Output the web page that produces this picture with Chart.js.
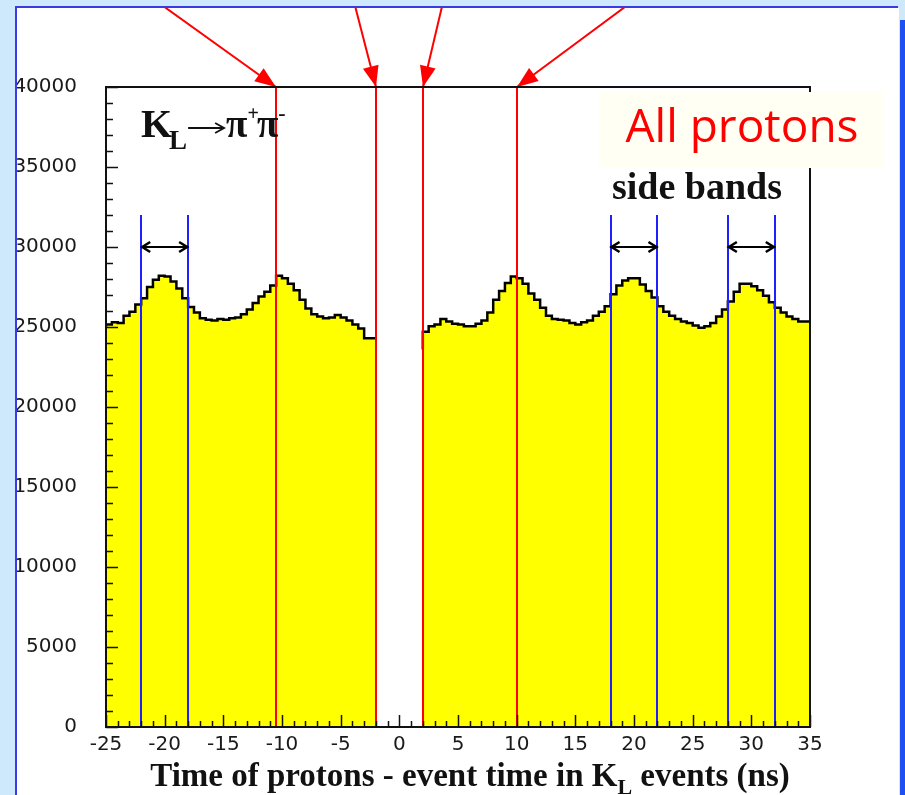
<!DOCTYPE html>
<html>
<head>
<meta charset="utf-8">
<title>Proton timing in KL events</title>
<script src="https://cdn.jsdelivr.net/npm/chart.js@4.4.1/dist/chart.umd.min.js"></script>
<style>
  html, body { margin: 0; padding: 0; background: #cde9fb; }
  #wrap { width: 905px; height: 795px; }
</style>
</head>
<body>
<div id="wrap"><canvas id="plot" width="905" height="795"></canvas></div>
<script>
// histogram, 0.5 ns bins; the window -2..2 ns is cut out
const binWidth = 0.5
const leftStart = -25
const leftCounts = [
  25000, 25150, 25300, 25250, 25700, 25950, 26400, 26800, 27500, 27950,
  28200, 28150, 27850, 27400, 26800, 26250, 25900, 25550, 25450, 25400,
  25500, 25450, 25550, 25600, 25800, 26100, 26500, 26900, 27200, 27600,
  28200, 28050, 27700, 27300, 26700, 26150, 25800, 25650, 25550, 25600,
  25750, 25600, 25400, 25150, 24900, 24300
]
const rightStart = 2
const rightCounts = [
  23600, 24700, 25050, 25150, 25500, 25350, 25200, 25150, 25050, 25050,
  25200, 25400, 25900, 26700, 27250, 27750, 28150, 28050, 27700, 27100,
  26700, 26200, 25700, 25500, 25450, 25400, 25250, 25150, 25300, 25400,
  25700, 25950, 26300, 27050, 27600, 27900, 28050, 28050, 27650, 27250,
  26850, 26300, 25950, 25700, 25500, 25350, 25250, 25100, 24950, 25050,
  25250, 25650, 26100, 26600, 27200, 27700, 27700, 27550, 27300, 26950,
  26550, 26200, 25900, 25650, 25500, 25350
]

// time cuts (red) and side band windows (blue)
const cutTimes = [-10.5, -2, 2, 10]
const sideBands = [[-22, -18], [18, 22], [28, 32]]
const sideBandTop = 32000
const sideBandArrowLevel = 30000

// axes
const xMin = -25, xMax = 35, xStep = 5, xMinorStep = 1
const yMin = 0, yMax = 40000, yStep = 5000, yMinorStep = 1000

const xTitle = ['Time of protons - event time in K', 'L', ' events (ns)']
const boxLabel = 'All protons'
const bandLabel = 'side bands'

function toPoints(start, counts) {
  const pts = counts.map((c, i) => ({x: start + i * binWidth, y: c}))
  pts.push({x: start + counts.length * binWidth, y: counts[counts.length - 1]})
  return pts
}

// pixel offsets of the arrow tails above the frame
const arrowTailDx = [-124, -23, 21, 120]

const serif = '"Liberation Serif", "Times New Roman", serif'
const tickFont = {family: '"DejaVu Sans", sans-serif', size: 20}

function arrowHead(ctx, x1, y1, x2, y2, len, half, filled) {
  const a = Math.atan2(y2 - y1, x2 - x1)
  const bx = x2 - len * Math.cos(a), by = y2 - len * Math.sin(a)
  const px = -Math.sin(a) * half, py = Math.cos(a) * half
  ctx.beginPath()
  if (filled) {
    ctx.moveTo(x2, y2)
    ctx.lineTo(bx + px, by + py)
    ctx.lineTo(bx - px, by - py)
    ctx.closePath()
    ctx.fill()
  } else {
    ctx.moveTo(bx + px, by + py)
    ctx.lineTo(x2, y2)
    ctx.lineTo(bx - px, by - py)
    ctx.stroke()
  }
}

const decorations = {
  id: 'decorations',
  beforeDraw(chart) {
    const ctx = chart.ctx
    ctx.save()
    ctx.fillStyle = '#cde9fb'
    ctx.fillRect(0, 0, chart.width, chart.height)
    ctx.fillStyle = '#ffffff'
    ctx.fillRect(17, 8, 882, chart.height - 8)
    ctx.restore()
  },
  afterDatasetsDraw(chart) {
    const ctx = chart.ctx
    const xs = chart.scales.x, ys = chart.scales.y
    const area = chart.chartArea
    ctx.save()

    // side band edges
    ctx.strokeStyle = '#1f1fff'
    ctx.lineWidth = 2
    sideBands.forEach(band => {
      band.forEach(t => {
        const px = Math.round(xs.getPixelForValue(t))
        ctx.beginPath()
        ctx.moveTo(px, ys.getPixelForValue(0))
        ctx.lineTo(px, ys.getPixelForValue(sideBandTop))
        ctx.stroke()
      })
    })

    // double arrows between the side band edges
    ctx.strokeStyle = '#000'
    ctx.lineWidth = 2
    sideBands.forEach(([a, b]) => {
      const x1 = xs.getPixelForValue(a), x2 = xs.getPixelForValue(b)
      const y = ys.getPixelForValue(sideBandArrowLevel)
      ctx.beginPath()
      ctx.moveTo(x1, y)
      ctx.lineTo(x2, y)
      ctx.stroke()
      ctx.lineWidth = 2.5
      arrowHead(ctx, x2, y, x1 + 1, y, 8, 5, false)
      arrowHead(ctx, x1, y, x2 - 1, y, 8, 5, false)
      ctx.lineWidth = 2
    })

    // time cuts
    ctx.strokeStyle = '#ff0000'
    ctx.fillStyle = '#ff0000'
    ctx.lineWidth = 2
    cutTimes.forEach((t, i) => {
      const px = Math.round(xs.getPixelForValue(t))
      const top = ys.getPixelForValue(yMax)
      ctx.beginPath()
      ctx.moveTo(px, ys.getPixelForValue(0))
      ctx.lineTo(px, top)
      ctx.stroke()
      const tx = px + arrowTailDx[i], ty = -2
      ctx.beginPath()
      ctx.moveTo(tx, ty)
      ctx.lineTo(px, top)
      ctx.stroke()
      arrowHead(ctx, tx, ty, px, top, 21, 8, true)
    })

    // frame
    ctx.strokeStyle = '#111'
    ctx.lineWidth = 2
    ctx.strokeRect(area.left, area.top, area.right - area.left, area.bottom - area.top)

    // inward tick marks
    ctx.lineWidth = 1.5
    ctx.beginPath()
    for (let t = xMin; t <= xMax; t += xMinorStep) {
      const px = Math.round(xs.getPixelForValue(t)) + 0.5
      const len = (t % xStep === 0) ? 12 : 6
      ctx.moveTo(px, area.bottom)
      ctx.lineTo(px, area.bottom - len)
    }
    for (let v = yMin; v <= yMax; v += yMinorStep) {
      const py = Math.round(ys.getPixelForValue(v)) + 0.5
      const len = (v % yStep === 0) ? 12 : 7
      ctx.moveTo(area.left, py)
      ctx.lineTo(area.left + len, py)
    }
    ctx.stroke()
    ctx.restore()
  },
  afterDraw(chart) {
    const ctx = chart.ctx
    ctx.save()

    // K_L -> pi+ pi-
    ctx.fillStyle = '#111'
    ctx.strokeStyle = '#111'
    ctx.textBaseline = 'alphabetic'
    let x = 141
    const base = 137
    ctx.font = 'bold 40px ' + serif
    ctx.fillText('K', x, base)
    x += ctx.measureText('K').width - 3
    ctx.font = 'bold 27px ' + serif
    ctx.fillText('L', x, base + 12)
    x += ctx.measureText('L').width
    // reaction arrow
    ctx.lineWidth = 1.8
    ctx.beginPath()
    ctx.moveTo(x + 1, base - 9)
    ctx.lineTo(x + 36, base - 9)
    ctx.stroke()
    arrowHead(ctx, x, base - 9, x + 37, base - 9, 9, 5, false)
    x += 39
    ctx.font = 'bold 39px ' + serif
    ctx.fillText('\u03c0', x, base)
    x += ctx.measureText('\u03c0').width
    ctx.font = 'bold 20px ' + serif
    ctx.fillText('+', x, base - 17)
    x += ctx.measureText('+').width - 2
    ctx.font = 'bold 39px ' + serif
    ctx.fillText('\u03c0', x, base)
    x += ctx.measureText('\u03c0').width
    ctx.font = 'bold 22px ' + serif
    ctx.fillText('-', x, base - 17)

    // side bands caption
    ctx.font = 'bold 38px ' + serif
    ctx.textAlign = 'center'
    ctx.fillText(bandLabel, 697, 199)

    // boxed label
    ctx.fillStyle = '#fffff3'
    ctx.fillRect(599, 92, 285, 76)
    ctx.fillStyle = '#ff0000'
    ctx.font = '46px "Open Sans", sans-serif'
    ctx.textBaseline = 'middle'
    ctx.fillText(boxLabel, 742, 129)

    // axis title with subscript
    ctx.textAlign = 'left'
    ctx.textBaseline = 'alphabetic'
    ctx.fillStyle = '#111'
    const fonts = ['bold 33px ' + serif, 'bold 22px ' + serif, 'bold 33px ' + serif]
    const dys = [0, 8, 0]
    let total = 0
    xTitle.forEach((s, i) => { ctx.font = fonts[i]; total += ctx.measureText(s).width })
    x = 470 - total / 2
    xTitle.forEach((s, i) => {
      ctx.font = fonts[i]
      ctx.fillText(s, x, 786 + dys[i])
      x += ctx.measureText(s).width
    })

    // page edges
    ctx.fillStyle = '#cde9fb'
    ctx.fillRect(0, 0, 15, chart.height)
    ctx.fillRect(0, 0, chart.width, 6)
    ctx.strokeStyle = '#3a3ae6'
    ctx.lineWidth = 2
    ctx.beginPath()
    ctx.moveTo(16, chart.height)
    ctx.lineTo(16, 7)
    ctx.lineTo(898, 7)
    ctx.stroke()
    ctx.fillStyle = '#cde9fb'
    ctx.fillRect(899, 0, 6, chart.height)
    ctx.fillStyle = '#1e4ff0'
    ctx.fillRect(900, 20, 5, chart.height - 20)
    ctx.restore()
  }
}

const histStyle = {
  stepped: 'after',
  fill: 'origin',
  backgroundColor: '#ffff00',
  borderColor: '#000000',
  borderWidth: 2.5,
  pointRadius: 0
}

new Chart(document.getElementById('plot'), {
  type: 'line',
  data: {
    datasets: [
      Object.assign({data: toPoints(leftStart, leftCounts)}, histStyle),
      Object.assign({data: toPoints(rightStart, rightCounts)}, histStyle)
    ]
  },
  options: {
    responsive: false,
    animation: false,
    layout: {padding: {top: 87, right: 95, bottom: 0, left: 0}},
    plugins: {legend: {display: false}, tooltip: {enabled: false}},
    scales: {
      x: {
        type: 'linear',
        min: xMin,
        max: xMax,
        afterFit(s) { s.height = 68 },
        grid: {display: false, drawTicks: false},
        border: {display: false},
        ticks: {
          stepSize: xStep,
          padding: 6,
          color: '#1a1a1a',
          maxRotation: 0,
          font: tickFont,
          callback: v => String(v)
        }
      },
      y: {
        min: yMin,
        max: yMax,
        afterFit(s) { s.width = 106 },
        grid: {display: false, drawTicks: false},
        border: {display: false},
        ticks: {
          stepSize: yStep,
          padding: 29,
          color: '#1a1a1a',
          font: tickFont,
          callback: v => String(v)
        }
      }
    }
  },
  plugins: [decorations]
})
</script>
</body>
</html>
